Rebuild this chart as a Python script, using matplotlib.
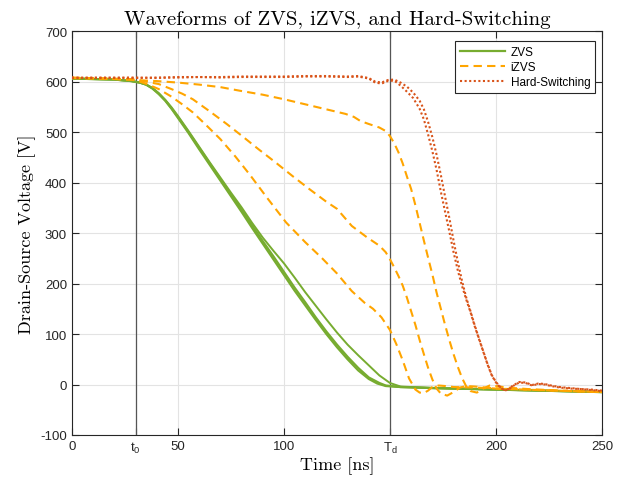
import matplotlib
matplotlib.use("Agg")
import matplotlib.pyplot as plt

# ZVS traces (ns, V)
t_zvs_a = [0, 10, 20, 28, 32, 35, 38, 41, 44, 47, 50, 55, 60, 65, 70, 75, 80, 85, 90, 95, 100,
           105, 110, 115, 120, 125, 130, 135, 140, 144, 148, 155, 170, 190, 210, 230, 250]
v_zvs_a = [606, 605, 604, 601, 598, 594, 586, 575, 562, 546, 528, 498, 466, 435, 404, 373, 342,
           310, 279, 248, 217, 186, 157, 128, 100, 74, 50, 28, 11, 2, -3, -5, -7, -9, -11, -13, -15]
t_zvs_b = [0, 10, 20, 28, 32, 35, 38, 41, 44, 47, 50, 55, 60, 65, 70, 75, 80, 85, 90, 95, 100,
           105, 110, 115, 120, 125, 130, 135, 140, 145, 148, 155, 170, 190, 210, 230, 250]
v_zvs_b = [606, 605, 604, 601, 598, 594, 587, 576, 563, 547, 530, 500, 469, 438, 407, 376, 346,
           315, 284, 254, 223, 192, 163, 133, 105, 79, 55, 33, 14, 3, -2, -5, -7, -9, -11, -13, -15]
t_zvs_c = [0, 10, 20, 28, 32, 35, 38, 41, 44, 47, 50, 55, 60, 65, 70, 75, 80, 85, 90, 95, 100,
           105, 110, 115, 120, 125, 130, 135, 140, 145, 150, 155, 170, 190, 210, 230, 250]
v_zvs_c = [606, 605, 604, 601, 598, 594, 587, 577, 564, 549, 532, 502, 471, 440, 410, 380, 351,
           320, 291, 265, 240, 212, 183, 156, 129, 103, 79, 58, 38, 18, 3, -4, -7, -9, -11, -13, -15]

# iZVS traces
t_izvs_1 = [0, 15, 30, 40, 50, 60, 70, 79, 90, 100, 110, 120, 129, 133, 136, 140, 145, 148, 150,
            152, 154, 156, 158, 160, 162, 164, 166, 168, 170, 172, 174, 176, 178, 180, 182, 184,
            186, 188, 191, 194, 197, 200, 205, 215, 230, 250]
v_izvs_1 = [608, 606, 603, 601, 598, 594, 589, 582, 574, 565, 555, 545, 536, 530, 522, 516, 509,
            502, 492, 478, 460, 438, 412, 387, 355, 320, 285, 251, 218, 182, 150, 118, 88, 60, 35,
            13, -4, -13, -16, -8, -2, -3, -6, -9, -12, -15]
t_izvs_2 = [0, 15, 28, 32, 36, 41, 47, 52, 57, 65, 73, 80, 88, 96, 104, 112, 120, 125, 132, 139,
            145, 148, 150, 152, 154, 156, 158, 160, 162, 164, 166, 168, 170, 172, 174, 177, 180,
            183, 186, 190, 195, 200, 220, 250]
v_izvs_2 = [607, 606, 605, 602, 599, 595, 585, 576, 565, 541, 516, 493, 466, 440, 413, 387, 362,
            348, 314, 292, 275, 262, 248, 232, 215, 196, 172, 145, 118, 88, 60, 33, 10, -8, -18,
            -22, -15, -6, -3, -4, -6, -8, -11, -15]
t_izvs_3 = [0, 15, 28, 32, 36, 41, 47, 52, 57, 63, 70, 77, 84, 92, 101, 110, 118, 125, 132, 138,
            142, 146, 150, 153, 156, 159, 162, 164, 166, 168, 170, 173, 176, 180, 190, 200, 220, 250]
v_izvs_3 = [607, 606, 604, 600, 594, 585, 570, 555, 539, 515, 486, 452, 415, 370, 321, 282, 250,
            220, 185, 162, 150, 133, 108, 80, 48, 12, -10, -16, -17, -12, -5, -2, -3, -5, -6, -8,
            -11, -15]

# hard-switching traces
t_hard_a = [0, 10, 20, 30, 40, 50, 60, 70, 80, 90, 100, 110, 120, 130, 135, 140, 143, 146, 149,
            152, 155, 158, 161, 164, 166, 168, 170, 172, 174, 176, 178, 180, 182, 184, 186, 188,
            190, 192, 194, 196, 198, 200, 202, 204, 206, 208, 211, 214, 217, 220, 223, 226, 230,
            235, 240, 245, 250]
v_hard_a = [608, 607, 607, 607, 608, 608, 609, 608, 609, 609, 609, 610, 610, 609, 610, 606, 598,
            596, 601, 602, 592, 580, 567, 546, 525, 495, 462, 425, 382, 342, 303, 262, 226, 195,
            168, 143, 115, 90, 65, 40, 18, 4, -6, -12, -10, -3, 4, 3, -2, 1, 0, -3, -6, -8, -9,
            -11, -13]
t_hard_b = [0, 10, 20, 30, 40, 50, 60, 70, 80, 90, 100, 110, 120, 130, 135, 140, 143, 146, 149,
            152, 155, 158, 161, 164, 166, 168, 170, 172, 174, 176, 178, 180, 182, 184, 186, 188,
            190, 192, 194, 196, 198, 200, 202, 204, 206, 208, 211, 214, 217, 220, 223, 226, 230,
            235, 240, 245, 250]
v_hard_b = [607, 608, 608, 608, 607, 609, 609, 609, 610, 610, 610, 611, 611, 610, 611, 607, 600,
            598, 603, 604, 598, 590, 578, 562, 545, 520, 490, 455, 415, 372, 330, 285, 243, 205,
            172, 145, 117, 91, 66, 41, 19, 5, -5, -11, -9, -2, 5, 4, -1, 2, 1, -2, -5, -7, -9,
            -10, -12]

t0 = 30
td = 150
x_ticks = [0, t0, 50, 100, td, 200, 250]
x_labels = ['0', r'$\mathregular{t_0}$', '50', '100', r'$\mathregular{T_d}$', '200', '250']
y_ticks = list(range(-100, 701, 100))

green = '#77AC30'
orange = '#FFA500'
red = '#D95319'

plt.rcParams['font.family'] = ['Liberation Sans', 'DejaVu Sans']
plt.rcParams['axes.unicode_minus'] = False
plt.rcParams['mathtext.default'] = 'regular'

fig = plt.figure(figsize=(6.31, 4.89), dpi=100)
ax = fig.add_axes([0.114, 0.1084, 0.840, 0.826])

ax.axvline(t0, color='#555555', lw=0.9, zorder=1)
ax.axvline(td, color='#555555', lw=0.9, zorder=1)

ax.plot(t_zvs_a, v_zvs_a, color=green, lw=1.6, label='ZVS', zorder=3)
ax.plot(t_zvs_b, v_zvs_b, color=green, lw=1.6, zorder=3)
ax.plot(t_zvs_c, v_zvs_c, color=green, lw=1.4, zorder=3)

ax.plot(t_izvs_1, v_izvs_1, color=orange, lw=1.5, ls=(0, (4, 2.5)), label='iZVS', zorder=4)
ax.plot(t_izvs_2, v_izvs_2, color=orange, lw=1.5, ls=(0, (4, 2.5)), zorder=4)
ax.plot(t_izvs_3, v_izvs_3, color=orange, lw=1.5, ls=(0, (4, 2.5)), zorder=4)

ax.plot(t_hard_a, v_hard_a, color=red, lw=1.5, ls=(0, (1, 1.2)), label='Hard-Switching', zorder=5)
ax.plot(t_hard_b, v_hard_b, color=red, lw=1.5, ls=(0, (1, 1.2)), zorder=5)

ax.set_xlim(0, 250)
ax.set_ylim(-100, 700)
ax.set_xticks(x_ticks)
ax.set_xticklabels(x_labels)
ax.set_yticks(y_ticks)
ax.tick_params(direction='in', top=True, right=True, labelsize=9.5, length=5,
               width=0.8, colors='#262626', labelcolor='#262626')
ax.grid(True, color='#e3e3e3', lw=0.8, zorder=0)
ax.set_axisbelow(True)
for s in ax.spines.values():
    s.set_color('#262626')
    s.set_linewidth(0.8)

ax.set_title('Waveforms of ZVS, iZVS, and Hard-Switching', fontname='cmr10', fontsize=15, pad=5)
ax.set_xlabel('Time [ns]', fontname='cmr10', fontsize=13, labelpad=1)
ax.set_ylabel('Drain-Source Voltage [V]', fontname='cmr10', fontsize=13, labelpad=3)

leg = ax.legend(loc='upper right', bbox_to_anchor=(0.987, 0.975), borderaxespad=0,
                fontsize=8.5, handlelength=3.8, handletextpad=0.5, borderpad=0.4,
                labelspacing=0.25, fancybox=False, framealpha=1, edgecolor='#262626')
leg.get_frame().set_linewidth(0.8)

fig.savefig('out.png', dpi=100)
